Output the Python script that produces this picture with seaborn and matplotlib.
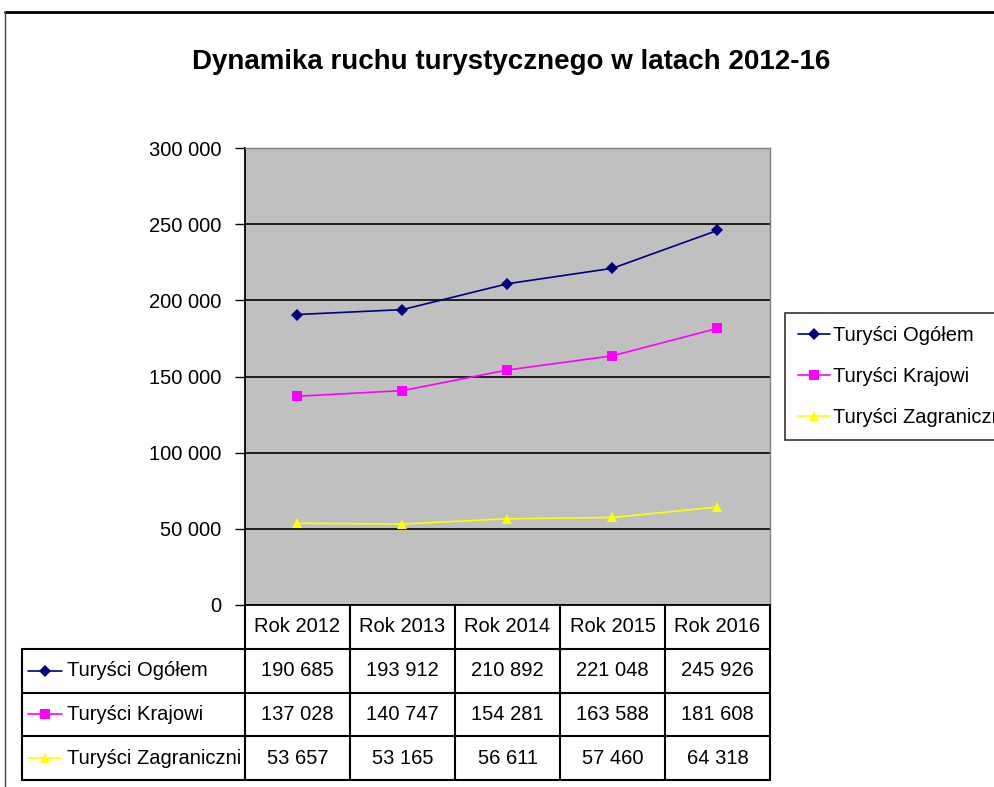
import matplotlib
matplotlib.use('Agg')
import matplotlib.pyplot as plt
import pandas as pd
import seaborn as sns
from matplotlib.lines import Line2D
from matplotlib.ticker import FuncFormatter

# dane z wykresu
years = ['Rok 2012', 'Rok 2013', 'Rok 2014', 'Rok 2015', 'Rok 2016']
series = ['Turyści Ogółem', 'Turyści Krajowi', 'Turyści Zagraniczni']
ogolem = [190685, 193912, 210892, 221048, 245926]
krajowi = [137028, 140747, 154281, 163588, 181608]
zagraniczni = [53657, 53165, 56611, 57460, 64318]

colors = ['#000080', '#FF00FF', '#FFFF00']
markers = ['D', 's', '^']
msizes = [6, 6.5, 7]

sns.set_style('white')
plt.rcParams['font.family'] = ['Liberation Sans', 'DejaVu Sans']
plt.rcParams['text.color'] = 'black'
plt.rcParams['ytick.color'] = 'black'
plt.rcParams['ytick.labelcolor'] = 'black'

FS = 14.5

values = [ogolem, krajowi, zagraniczni]
df = pd.DataFrame({
    'rok': years * 3,
    'seria': [s for s in series for _ in years],
    'wartosc': ogolem + krajowi + zagraniczni,
})


def fmt(v):
    return f"{int(v):,}".replace(',', ' ')


W, H = 995, 787
fig = plt.figure(figsize=(W / 100, H / 100), dpi=100)
ax = fig.add_axes([245 / W, 1 - 605 / H, 525 / W, 457 / H])
ax.set_facecolor('#C0C0C0')

sns.lineplot(data=df, x='rok', y='wartosc', hue='seria', style='seria',
             palette=dict(zip(series, colors)), markers=dict(zip(series, markers)),
             dashes=False, lw=1.2, markersize=7, markeredgewidth=0,
             legend=False, ax=ax)
for ln, ms in zip(ax.lines, msizes):
    ln.set_markersize(ms)

ax.set_xlim(-0.5, 4.5)
ax.set_ylim(0, 300000)
ax.set_yticks(range(0, 300001, 50000))
ax.yaxis.set_major_formatter(FuncFormatter(lambda v, p: fmt(v)))
ax.yaxis.grid(True, color='black', lw=1.2)
ax.set_axisbelow(True)
ax.set_xticks([])
ax.set_xlabel('')
ax.set_ylabel('')
ax.tick_params(axis='y', length=7, width=1, direction='out', pad=10,
               labelsize=FS, left=True)
for side in ['left', 'bottom']:
    ax.spines[side].set_color('black')
    ax.spines[side].set_linewidth(1.3)
for side in ['top', 'right']:
    ax.spines[side].set_color('#808080')
    ax.spines[side].set_linewidth(1.0)

# legenda (w oryginale ucieta przy prawej krawedzi)
handles = [Line2D([], [], color=c, marker=m, markersize=ms, markeredgewidth=0, lw=1.2)
           for c, m, ms in zip(colors, markers, msizes)]
leg = fig.legend(handles, series, loc='upper left',
                 bbox_to_anchor=(785 / W, 1 - 313 / H), fontsize=FS,
                 frameon=True, fancybox=False, edgecolor='black',
                 handlelength=1.6, handletextpad=0.15, labelspacing=1.1,
                 borderpad=0.65, borderaxespad=0)
leg.get_frame().set_linewidth(1.2)

# tytul
fig.text(511 / W, 1 - 62 / H, 'Dynamika ruchu turystycznego w latach 2012-16',
         ha='center', va='center', fontsize=20, fontweight='bold')

# tabela danych
lab_w = 223 / 105
tax = fig.add_axes([22 / W, 1 - 780 / H, 748 / W, 175 / H])
tax.set_xlim(-0.5 - lab_w, 4.5)
tax.set_ylim(4, 0)
tax.axis('off')
lk = dict(color='black', lw=1.5, clip_on=False)
for y in [1, 2, 3, 4]:
    tax.plot([-0.5 - lab_w, 4.5], [y, y], **lk)
tax.plot([-0.5 - lab_w, -0.5 - lab_w], [1, 4], **lk)
for i in range(6):
    tax.plot([i - 0.5, i - 0.5], [0, 4], **lk)
for i, yr in enumerate(years):
    tax.text(i, 0.5, yr, ha='center', va='center', fontsize=FS)
for r, (name, vals, c, m, ms) in enumerate(zip(series, values, colors, markers, msizes)):
    yc = r + 1.5
    x0 = -0.5 - lab_w
    tax.plot([x0 + 6 / 105, x0 + 40 / 105], [yc, yc], color=c, lw=1.2, clip_on=False)
    tax.plot([x0 + 23 / 105], [yc], marker=m, color=c, markersize=ms,
             markeredgewidth=0, clip_on=False)
    tax.text(x0 + 45 / 105, yc, name, ha='left', va='center', fontsize=FS)
    for i, v in enumerate(vals):
        tax.text(i, yc, fmt(v), ha='center', va='center', fontsize=FS)

# ramka wykresu
fig.add_artist(Line2D([5 / W, 1], [1 - 12 / H, 1 - 12 / H], color='black', lw=2,
                      transform=fig.transFigure))
fig.add_artist(Line2D([5 / W, 5 / W], [0, 1 - 12 / H], color='#404040', lw=1,
                      transform=fig.transFigure))

fig.savefig('out.png', dpi=100)
